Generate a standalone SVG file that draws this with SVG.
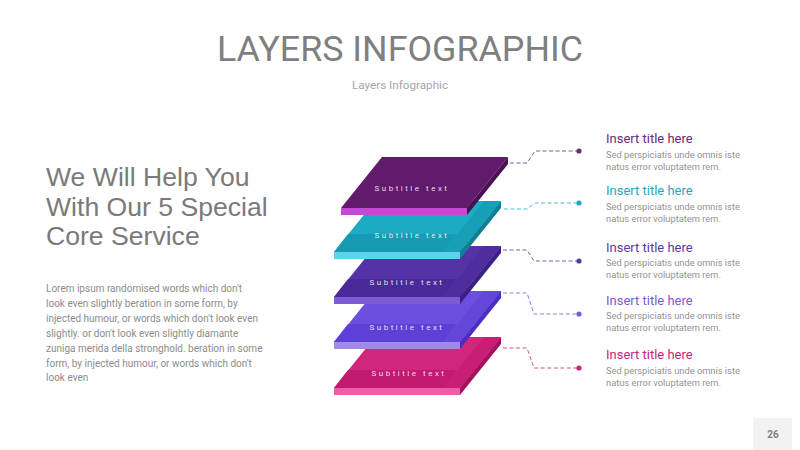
<svg xmlns="http://www.w3.org/2000/svg" width="800" height="450" viewBox="0 0 800 450">
<style>
.title{font-family:Roboto,"Liberation Sans",sans-serif;font-size:35.8px;fill:#7f7f7f;text-anchor:middle}
.sub{font-family:Roboto,"Liberation Sans",sans-serif;font-size:11.7px;fill:#a6a6a6;text-anchor:middle}
.head{font-family:"Liberation Sans",Arial,sans-serif;font-size:26.6px;fill:#7a7a7a}
.para{font-family:Roboto,"Liberation Sans",sans-serif;font-size:10px;fill:#8c8c8c}
.lt{font-family:Roboto,"Liberation Sans",sans-serif;font-size:8px;fill:#ffffff;fill-opacity:0.85;letter-spacing:2.5px;text-anchor:middle}
.it{font-family:Roboto,"Liberation Sans",sans-serif;font-size:13px}
.ib{font-family:Roboto,"Liberation Sans",sans-serif;font-size:9.3px;fill:#939393}
.conn{fill:none;stroke-width:1;stroke-dasharray:4 2.5;stroke-opacity:0.8}
.pg{font-family:Roboto,"Liberation Sans",sans-serif;font-size:10px;fill:#7f7f7f;text-anchor:middle;font-weight:bold}
</style>
<rect width="800" height="450" fill="#ffffff"/>
<text class="title" x="400" y="61">LAYERS INFOGRAPHIC</text>
<text class="sub" x="400" y="89">Layers Infographic</text>
<g id="heading">
<text class="head" x="46" y="186">We Will Help You</text>
<text class="head" x="46" y="216">With Our 5 Special</text>
<text class="head" x="46" y="245">Core Service</text>
</g>
<g id="paragraph">
<text class="para" x="46" y="292">Lorem ipsum randomised words which don't</text>
<text class="para" x="46" y="307">look even slightly beration in some form, by</text>
<text class="para" x="46" y="322">injected humour, or words which don't look even</text>
<text class="para" x="46" y="337">slightly. or don't look even slightly diamante</text>
<text class="para" x="46" y="352">zuniga merida della stronghold. beration in some</text>
<text class="para" x="46" y="367">form, by injected humour, or words which don't</text>
<text class="para" x="46" y="381">look even</text>
</g>
<g id="connectors">
<polyline class="conn" stroke="#6a2a7a" points="510,163 527,163 535,151 579,151"/>
<polyline class="conn" stroke="#1fa8c0" points="504,209 527,209 535,203 579,203"/>
<polyline class="conn" stroke="#5b3aa0" points="503,250 527,250 534,261 579,261"/>
<polyline class="conn" stroke="#7a5bd0" points="503,293 527,293 534,314 579,314"/>
<polyline class="conn" stroke="#c8257a" points="503,348 527,348 534,368 579,368"/>
<circle cx="579" cy="151" r="2.6" fill="#6a2a7a"/>
<circle cx="579" cy="203" r="2.6" fill="#1fa8c0"/>
<circle cx="579" cy="261" r="2.6" fill="#5b3aa0"/>
<circle cx="579" cy="314" r="2.6" fill="#7a5bd0"/>
<circle cx="579" cy="368" r="2.6" fill="#c8257a"/>
</g>
<g id="layer5">
<polygon points="334,388 460,388 501,337 375,337" fill="#d0267c"/>
<polygon points="334,388 443,388 457,370 348,370" fill="#c21a70"/>
<polygon points="443,388 460,388 501,337 484,337" fill="#c81e76"/>
<rect x="334" y="388" width="126" height="7" fill="#ec5fa8"/>
<polygon points="460,388 501,337 501,344 460,395" fill="#a5115c"/>
<text class="lt" x="409" y="376">Subtitle text</text>
</g>
<g id="layer4">
<polygon points="334,342 460,342 501,291 375,291" fill="#6c4ee0"/>
<polygon points="334,342 443,342 457,324 348,324" fill="#5f40d6"/>
<polygon points="443,342 460,342 501,291 484,291" fill="#6446da"/>
<rect x="334" y="342" width="126" height="7" fill="#a08ae6"/>
<polygon points="460,342 501,291 501,298 460,349" fill="#4a2ec4"/>
<text class="lt" x="407" y="330">Subtitle text</text>
</g>
<g id="layer3">
<polygon points="334,297 460,297 501,246 375,246" fill="#5532a6"/>
<polygon points="334,297 443,297 457,279 348,279" fill="#4a2a98"/>
<polygon points="443,297 460,297 501,246 484,246" fill="#4e2d9e"/>
<rect x="334" y="297" width="126" height="7" fill="#7a5cd2"/>
<polygon points="460,297 501,246 501,253 460,304" fill="#3c2086"/>
<text class="lt" x="407" y="285">Subtitle text</text>
</g>
<g id="layer2">
<polygon points="334,252 460,252 501,201 375,201" fill="#1daac3"/>
<polygon points="334,252 443,252 457,234 348,234" fill="#179bb4"/>
<polygon points="443,252 460,252 501,201 484,201" fill="#189fb8"/>
<rect x="334" y="252" width="126" height="7" fill="#5ed3ea"/>
<polygon points="460,252 501,201 501,208 460,259" fill="#0e7f95"/>
<text class="lt" x="412" y="238">Subtitle text</text>
</g>
<g id="layer1">
<polygon points="341,208 467,208 508,157 382,157" fill="#621a6c"/>
<rect x="341" y="208" width="126" height="7" fill="#c34bd4"/>
<polygon points="467,208 508,157 508,164 467,215" fill="#4b1054"/>
<text class="lt" x="412" y="191">Subtitle text</text>
</g>
<g id="item1">
<text class="it" x="606" y="143" fill="#6a2a7a">Insert title here</text>
<text class="ib" x="606" y="158">Sed perspiciatis unde omnis iste</text>
<text class="ib" x="606" y="170">natus error voluptatem rem.</text>
</g>
<g id="item2">
<text class="it" x="606" y="195" fill="#1fa8c0">Insert title here</text>
<text class="ib" x="606" y="210">Sed perspiciatis unde omnis iste</text>
<text class="ib" x="606" y="222">natus error voluptatem rem.</text>
</g>
<g id="item3">
<text class="it" x="606" y="252" fill="#5b3aa0">Insert title here</text>
<text class="ib" x="606" y="266">Sed perspiciatis unde omnis iste</text>
<text class="ib" x="606" y="278">natus error voluptatem rem.</text>
</g>
<g id="item4">
<text class="it" x="606" y="305" fill="#7a5bd0">Insert title here</text>
<text class="ib" x="606" y="319">Sed perspiciatis unde omnis iste</text>
<text class="ib" x="606" y="331">natus error voluptatem rem.</text>
</g>
<g id="item5">
<text class="it" x="606" y="359" fill="#c8257a">Insert title here</text>
<text class="ib" x="606" y="374">Sed perspiciatis unde omnis iste</text>
<text class="ib" x="606" y="386">natus error voluptatem rem.</text>
</g>
<g id="page">
<rect x="753" y="418" width="39" height="32" fill="#f2f2f2"/>
<text class="pg" x="773" y="438">26</text>
</g>
</svg>
